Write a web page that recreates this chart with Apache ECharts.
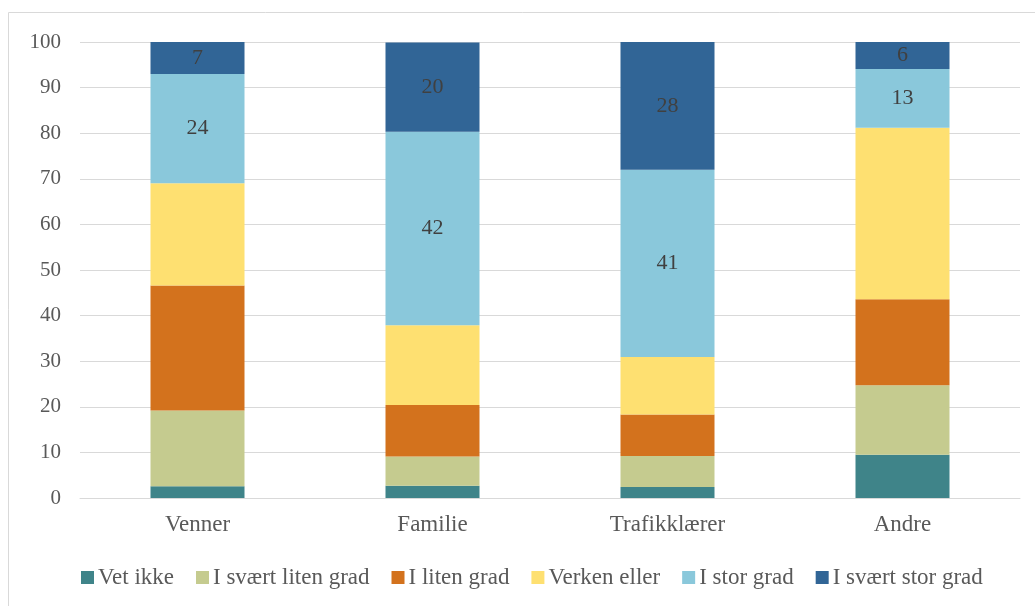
<!DOCTYPE html>
<html>
<head>
<meta charset="utf-8">
<script src="https://cdn.jsdelivr.net/npm/echarts@6/dist/echarts.min.js"></script>
<style>
  html, body { margin: 0; padding: 0; background: #fff; }
  #chart { width: 1035px; height: 606px; }
</style>
</head>
<body>
<div id="chart"></div>
<script>
const categories = ['Venner', 'Familie', 'Trafikklærer', 'Andre']
const seriesNames = ['Vet ikke', 'I svært liten grad', 'I liten grad', 'Verken eller', 'I stor grad', 'I svært stor grad']
const vetIkke = [2.6, 2.7, 2.4, 9.5]
const svaertLiten = [16.6, 6.4, 6.8, 15.2]
const liten = [27.4, 11.3, 9.1, 18.9]
const verken = [22.4, 17.5, 12.6, 37.6]
const stor = [24.0, 42.4, 41.1, 12.9]
const svaertStor = [7.0, 19.6, 28.0, 5.9]
const yTicks = [0, 10, 20, 30, 40, 50, 60, 70, 80, 90, 100]

const colors = ['#3f8489', '#c5cb8f', '#d3721d', '#fee071', '#8ac8db', '#316596']
const values = [vetIkke, svaertLiten, liten, verken, stor, svaertStor]
const showLabel = [false, false, false, false, true, true]
const font = '"Liberation Serif", "DejaVu Serif", serif'

const chart = echarts.init(document.getElementById('chart'))
chart.setOption({
  animation: false,
  textStyle: { fontFamily: font },
  graphic: [{
    type: 'rect',
    shape: { x: 8.5, y: 12.5, width: 1040, height: 610 },
    style: { fill: 'none', stroke: '#d9d9d9', lineWidth: 1 },
    silent: true
  }],
  legend: {
    bottom: 17,
    left: 81,
    padding: 0,
    itemWidth: 13,
    itemHeight: 13,
    itemGap: 22,
    icon: 'rect',
    textStyle: { fontFamily: font, fontSize: 23, color: '#595959', padding: [0, 0, 0, -1] },
    data: seriesNames
  },
  grid: { left: 80, right: 15, top: 42, bottom: 108 },
  xAxis: {
    type: 'category',
    data: categories,
    axisLine: { lineStyle: { color: '#d9d9d9' } },
    axisTick: { show: false },
    axisLabel: { fontFamily: font, fontSize: 23, color: '#595959', margin: 15 }
  },
  yAxis: {
    type: 'value',
    min: yTicks[0],
    max: yTicks[yTicks.length - 1],
    interval: 10,
    axisLine: { show: false },
    axisTick: { show: false },
    splitLine: { lineStyle: { color: '#d9d9d9', width: 1 } },
    axisLabel: { fontFamily: font, fontSize: 21, color: '#595959', margin: 19 }
  },
  series: seriesNames.map((name, i) => ({
    name: name,
    type: 'bar',
    stack: 'total',
    barWidth: '40%',
    data: values[i],
    itemStyle: { color: colors[i] },
    label: {
      show: showLabel[i],
      position: 'inside',
      fontFamily: font,
      fontSize: 22,
      color: '#404040',
      formatter: p => Math.round(p.value)
    }
  }))
})
</script>
</body>
</html>
